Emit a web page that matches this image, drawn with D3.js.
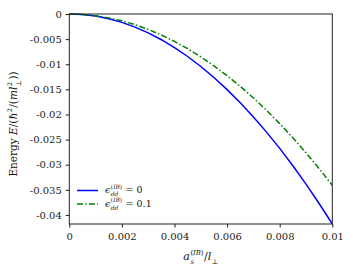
<!DOCTYPE html>
<html><head><meta charset="utf-8">
<script src="https://cdn.jsdelivr.net/npm/d3@7"></script>
<style>body{margin:0;background:#fff}svg{display:block}text{font-family:"DejaVu Serif",serif;white-space:pre}</style>
</head><body><svg id="c" width="353" height="274"></svg>
<script>
const xVals = [0,0.0005,0.001,0.0015,0.002,0.0025,0.003,0.0035,0.004,0.0045,0.005,0.0055,0.006,0.0065,0.007,0.0075,0.008,0.0085,0.009,0.0095,0.01];
const blueVals = [0,-0.000105,-0.00042,-0.00094,-0.00167,-0.00261,-0.00376,-0.00512,-0.00669,-0.00846,-0.01045,-0.01264,-0.01505,-0.01766,-0.02048,-0.02351,-0.02675,-0.0302,-0.03386,-0.03772,-0.0418];
const greenVals = [0,-0.000085,-0.00034,-0.00077,-0.00136,-0.00213,-0.00307,-0.00418,-0.00546,-0.00691,-0.00853,-0.01032,-0.01228,-0.01441,-0.01671,-0.01918,-0.02182,-0.02464,-0.02762,-0.03078,-0.0341];
const xTicks = [0,0.002,0.004,0.006,0.008,0.01];
const xTickLabels = ["0","0.002","0.004","0.006","0.008","0.01"];
const yTicks = [0,-0.005,-0.01,-0.015,-0.02,-0.025,-0.03,-0.035,-0.04];
const yTickLabels = ["0","-0.005","-0.01","-0.015","-0.02","-0.025","-0.03","-0.035","-0.04"];
const legendLabels=["0","0.1"];

const L=69.3,R=332.3,T=14,B=224;
const svg=d3.select("#c");
const x=d3.scaleLinear().domain([0,0.01]).range([L,R]);
const y=d3.scaleLinear().domain([-0.0418,0]).range([B,T]);

svg.append("clipPath").attr("id","cp").append("rect").attr("x",L).attr("y",T-1).attr("width",R-L).attr("height",B-T+1);

const line=d3.line().x((d,i)=>x(xVals[i])).y(d=>y(d));
const g=svg.append("g").attr("clip-path","url(#cp)");
g.append("path").datum(blueVals).attr("d",line).attr("fill","none").attr("stroke","#0000ff").attr("stroke-width",1.5);
g.append("path").datum(greenVals).attr("d",line).attr("fill","none").attr("stroke","#008000").attr("stroke-width",1.5).attr("stroke-dasharray","6,2.2,1.5,2.2");

const xa=svg.append("g").attr("transform",`translate(0,${B})`).call(d3.axisBottom(x).tickValues(xTicks).tickFormat((d,i)=>xTickLabels[i]).tickSize(3.5).tickPadding(4));
const ya=svg.append("g").attr("transform",`translate(${L},0)`).call(d3.axisLeft(y).tickValues(yTicks).tickFormat((d,i)=>yTickLabels[i]).tickSize(3.5).tickPadding(4));
[xa,ya].forEach(a=>{a.select(".domain").remove();a.selectAll("line").attr("stroke","#000").attr("stroke-width",0.9);a.selectAll("text").attr("font-family","DejaVu Serif").attr("font-size",10).attr("fill","#222");});
xa.selectAll("text").attr("dy","0.85em");
svg.append("rect").attr("x",L).attr("y",T).attr("width",R-L).attr("height",B-T).attr("fill","none").attr("stroke","#222").attr("stroke-width",1);

function drawMath(parent, segs, fs){
  const grp=parent.append("g");
  let cx=0;
  const put=(t,it,xx,yy,size)=>{
    const el=grp.append("text").attr("x",xx).attr("y",yy).attr("font-size",size).attr("fill","#111").attr("xml:space","preserve").text(t);
    if(it) el.attr("font-style","italic");
    return el.node().getComputedTextLength();
  };
  const putRun=(run,xx,yy,size)=>{let w=0;run.forEach(r=>{w+=put(r.t,r.it,xx+w,yy,size);});return w;};
  segs.forEach(s=>{
    if(s.t) cx+=put(s.t,s.it,cx,0,fs);
    if(s.sup||s.sub){
      let w=0;
      if(s.sup) w=Math.max(w,putRun(s.sup,cx+0.5,-0.45*fs,0.62*fs));
      if(s.sub) w=Math.max(w,putRun(s.sub,cx+0.5,0.36*fs,0.62*fs));
      cx+=w+1;
    }
  });
  return {grp,width:cx};
}

{
  const m=drawMath(svg,[{t:"a",it:true,sup:[{t:"("},{t:"IB",it:true},{t:")"}],sub:[{t:"s",it:true}]},{t:"/"},{t:"l",it:true,sub:[{t:"⊥"}]}],11);
  m.grp.attr("transform",`translate(${201-m.width/2},260)`);
}
{
  const m=drawMath(svg,[{t:"Energy "},{t:"E",it:true},{t:"/(ℏ",sup:[{t:"2"}]},{t:"/("},{t:"ml",it:true,sup:[{t:"2"}],sub:[{t:"⊥"}]},{t:"))"}],10.5);
  m.grp.attr("transform",`translate(17,${(T+B)/2+5+m.width/2}) rotate(-90)`);
}

const legendColors=["#0000ff","#008000"];
const legendDash=[null,"6,2.2,1.5,2.2"];
const legendY=[190.5,204];
legendLabels.forEach((lab,i)=>{
  svg.append("line").attr("x1",77).attr("x2",98).attr("y1",legendY[i]).attr("y2",legendY[i]).attr("stroke",legendColors[i]).attr("stroke-width",1.5).attr("stroke-dasharray",legendDash[i]);
  const m=drawMath(svg,[{t:"ϵ",it:true,sup:[{t:"("},{t:"IB",it:true},{t:")"}],sub:[{t:"dd",it:true}]},{t:" = "+lab}],9.5);
  m.grp.attr("transform",`translate(105,${legendY[i]+2.5})`);
});
</script></body></html>
